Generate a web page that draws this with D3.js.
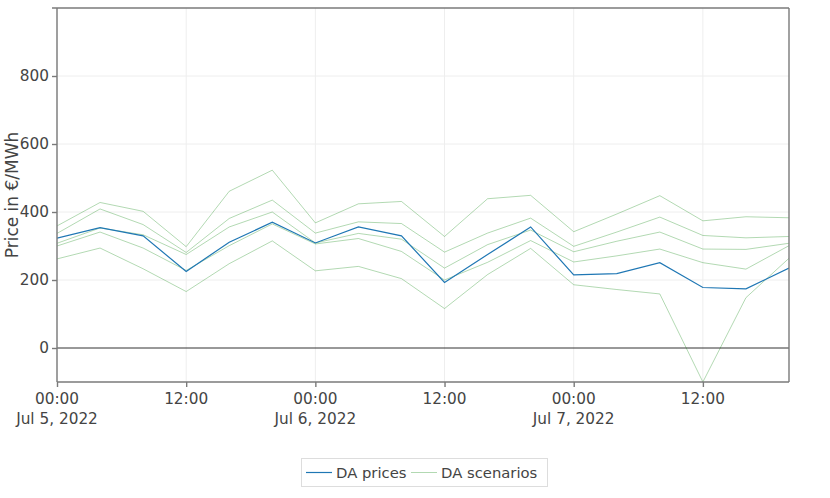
<!DOCTYPE html>
<html>
<head>
<meta charset="utf-8">
<script src="https://cdn.jsdelivr.net/npm/d3@7"></script>
<style>
  html, body { margin: 0; padding: 0; background: #fff; }
  svg { display: block; font-family: "DejaVu Sans", Verdana, sans-serif; }
</style>
</head>
<body>
<svg id="chart" width="830" height="498"></svg>
<script>
// ---- data ----
const times = [
  "2022-07-05T00:00", "2022-07-05T04:00", "2022-07-05T08:00", "2022-07-05T12:00",
  "2022-07-05T16:00", "2022-07-05T20:00", "2022-07-06T00:00", "2022-07-06T04:00",
  "2022-07-06T08:00", "2022-07-06T12:00", "2022-07-06T16:00", "2022-07-06T20:00",
  "2022-07-07T00:00", "2022-07-07T04:00", "2022-07-07T08:00", "2022-07-07T12:00",
  "2022-07-07T16:00", "2022-07-07T20:00"
];
const daPrices   = [323, 354, 330, 225, 311, 370, 309, 356, 330, 193, 275, 356, 215, 219, 251, 178, 174, 235];
const scenario1  = [359, 428, 402, 298, 461, 523, 368, 424, 431, 328, 439, 449, 342, 394, 448, 374, 386, 383];
const scenario2  = [337, 409, 363, 281, 381, 435, 338, 371, 366, 282, 338, 382, 299, 341, 385, 331, 324, 328];
const scenario3  = [308, 353, 333, 275, 356, 400, 309, 337, 320, 235, 304, 347, 283, 314, 341, 291, 290, 308];
const scenario4  = [300, 341, 294, 228, 301, 365, 306, 322, 284, 200, 252, 316, 253, 271, 291, 251, 232, 301];
const scenario5  = [262, 294, 233, 166, 248, 315, 227, 240, 204, 116, 216, 293, 186, 172, 159, -100, 148, 264];
const scenarios  = [scenario1, scenario2, scenario3, scenario4, scenario5];
const yTicks     = [0, 200, 400, 600, 800];
const xTickTimes = ["2022-07-05T00:00", "2022-07-05T12:00", "2022-07-06T00:00", "2022-07-06T12:00", "2022-07-07T00:00", "2022-07-07T12:00"];
const xTickLabels = [["00:00", "Jul 5, 2022"], ["12:00"], ["00:00", "Jul 6, 2022"], ["12:00"], ["00:00", "Jul 7, 2022"], ["12:00"]];
const yRange = [-100, 1000];
const yTitle = "Price in €/MWh";
const legendNames = ["DA prices", "DA scenarios"];

// ---- layout ----
const parse = d3.utcParse("%Y-%m-%dT%H:%M");
const dates = times.map(parse);
const L = 57, R = 789, T = 8, B = 382;
const svg = d3.select("#chart");
const x = d3.scaleUtc().domain(d3.extent(dates)).range([L, R]);
const y = d3.scaleLinear().domain(yRange).range([B, T]);

const blue = "#1f77b4";
const green = "rgba(0,128,0,0.3)";
const textColor = "#444";
const fs = 15.3;

// grid lines
const g = svg.append("g");
g.selectAll("line.vg").data(xTickTimes.map(parse)).enter().append("line")
  .attr("x1", d => x(d)).attr("x2", d => x(d)).attr("y1", T).attr("y2", B)
  .attr("stroke", "#eee").attr("stroke-width", 1);
g.selectAll("line.hg").data(yTicks.filter(v => v !== 0)).enter().append("line")
  .attr("x1", L).attr("x2", R).attr("y1", d => y(d)).attr("y2", d => y(d))
  .attr("stroke", "#eee").attr("stroke-width", 1);

// clip
svg.append("clipPath").attr("id", "clip").append("rect")
  .attr("x", L).attr("y", T).attr("width", R - L).attr("height", B - T);

// zero line
svg.append("line").attr("x1", L).attr("x2", R).attr("y1", y(0)).attr("y2", y(0))
  .attr("stroke", "#333").attr("stroke-width", 1);

const line = d3.line().x((d, i) => x(dates[i])).y(d => y(d));
const plot = svg.append("g").attr("clip-path", "url(#clip)");
scenarios.forEach(s => {
  plot.append("path").attr("d", line(s)).attr("fill", "none")
    .attr("stroke", green).attr("stroke-width", 1);
});
plot.append("path").attr("d", line(daPrices)).attr("fill", "none")
  .attr("stroke", blue).attr("stroke-width", 1.2);

// frame
const axisColor = "#7a7a7a";
const frame = svg.append("g").attr("stroke", axisColor).attr("stroke-width", 1.4).attr("fill", "none");
frame.append("line").attr("x1", L - 5).attr("x2", R).attr("y1", T).attr("y2", T);
frame.append("line").attr("x1", R).attr("x2", R).attr("y1", T).attr("y2", B);
frame.append("line").attr("x1", L).attr("x2", L).attr("y1", T).attr("y2", B);
frame.append("line").attr("x1", L).attr("x2", R).attr("y1", B).attr("y2", B);

// y axis ticks
const yAxis = d3.axisLeft(y).tickValues(yTicks).tickSize(5).tickPadding(3).tickFormat(d3.format("d"));
const ya = svg.append("g").attr("transform", `translate(${L},0)`).call(yAxis);
ya.select(".domain").remove();
ya.selectAll(".tick line").attr("stroke", axisColor).attr("stroke-width", 1.4);
ya.selectAll(".tick text").attr("fill", textColor).style("font-size", fs + "px")
  .style("font-family", '"DejaVu Sans", Verdana, sans-serif');

// x axis ticks
const xAxis = d3.axisBottom(x).tickValues(xTickTimes.map(parse)).tickSize(5).tickFormat(() => "");
const xa = svg.append("g").attr("transform", `translate(0,${B})`).call(xAxis);
xa.select(".domain").remove();
xa.selectAll(".tick line").attr("stroke", axisColor).attr("stroke-width", 1.4);
xa.selectAll(".tick text").remove();
xTickTimes.forEach((t, i) => {
  const tx = svg.append("text").attr("x", x(parse(t))).attr("y", 404)
    .attr("text-anchor", "middle").attr("fill", textColor).style("font-size", fs + "px");
  xTickLabels[i].forEach((s, j) => {
    tx.append("tspan").attr("x", x(parse(t))).attr("dy", j === 0 ? 0 : 20).text(s);
  });
});

// y title
svg.append("text").attr("transform", `translate(18,${(T + B) / 2}) rotate(-90)`)
  .attr("text-anchor", "middle").attr("fill", textColor).style("font-size", "17px").text(yTitle);

// legend
const lg = svg.append("g");
lg.append("rect").attr("x", 301.5).attr("y", 458.5).attr("width", 246).attr("height", 28)
  .attr("fill", "#fff").attr("stroke", "#ddd").attr("stroke-width", 1);
const items = [
  { name: legendNames[0], color: blue, x0: 306 },
  { name: legendNames[1], color: green, x0: 411 }
];
items.forEach(it => {
  lg.append("line").attr("x1", it.x0).attr("x2", it.x0 + 26).attr("y1", 472.5).attr("y2", 472.5)
    .attr("stroke", it.color).attr("stroke-width", it.color === blue ? 1.2 : 1);
  lg.append("text").attr("x", it.x0 + 30).attr("y", 477.5).attr("fill", textColor)
    .style("font-size", "14.8px").text(it.name);
});
</script>
</body>
</html>
